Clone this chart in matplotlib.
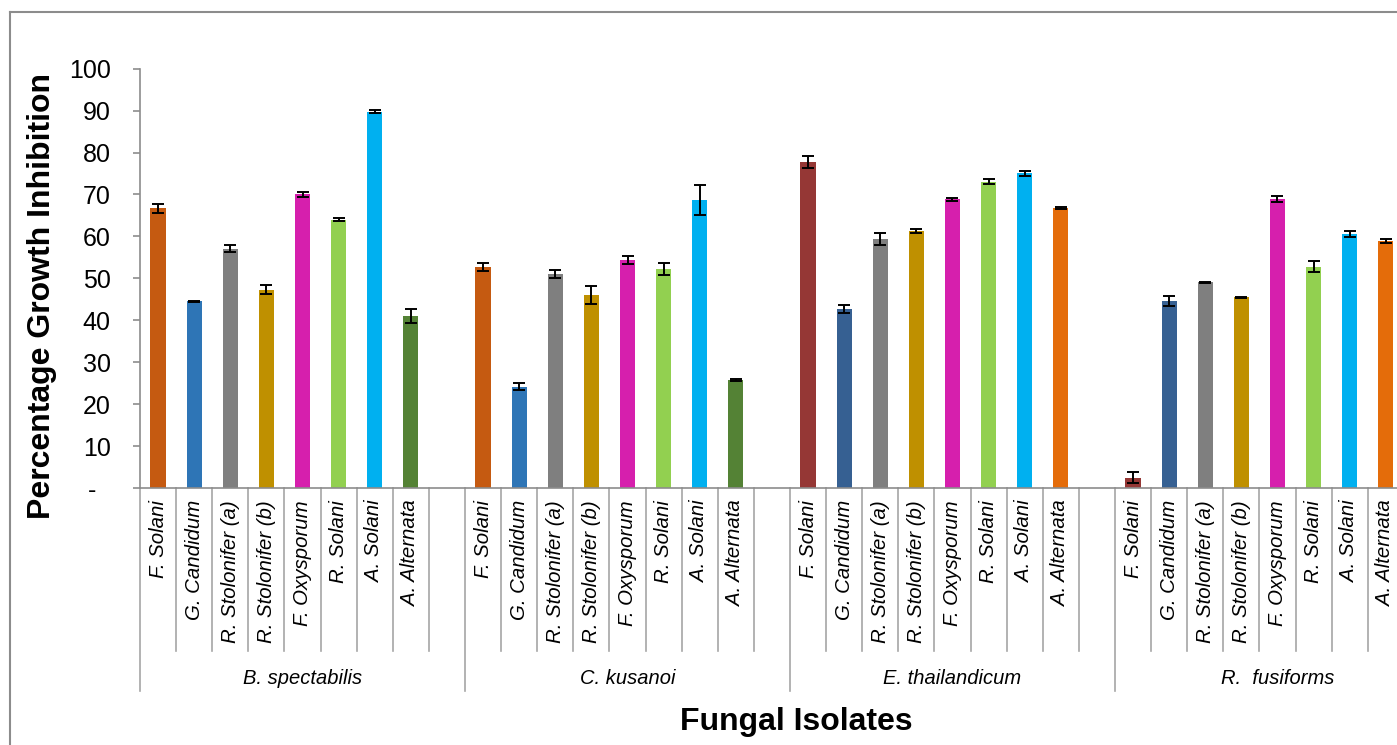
import numpy as np
import matplotlib.pyplot as plt
from matplotlib.lines import Line2D
from matplotlib.transforms import blended_transform_factory

plt.rcParams['font.family'] = ['Liberation Sans', 'DejaVu Sans']

# fungal isolates tested against each endophyte
isolates = ['F. Solani', 'G. Candidum', 'R. Stolonifer (a)', 'R. Stolonifer (b)',
            'F. Oxysporum', 'R. Solani', 'A. Solani', 'A. Alternata']
endophytes = ['B. spectabilis', 'C. kusanoi', 'E. thailandicum', 'R.  fusiforms']

# percentage growth inhibition (mean) and error
b_spectabilis = [66.7, 44.5, 57.1, 47.3, 70.1, 64.0, 89.7, 41.0]
b_spectabilis_err = [1.0, 0.1, 0.9, 1.1, 0.6, 0.4, 0.35, 1.7]
c_kusanoi = [52.7, 24.2, 51.0, 46.0, 54.4, 52.2, 68.7, 25.7]
c_kusanoi_err = [0.9, 0.9, 1.0, 2.1, 0.95, 1.5, 3.5, 0.3]
e_thailandicum = [77.8, 42.7, 59.4, 61.3, 68.9, 73.0, 75.1, 66.8]
e_thailandicum_err = [1.4, 0.9, 1.5, 0.4, 0.35, 0.6, 0.6, 0.3]
r_fusiforms = [2.5, 44.6, 49.1, 45.5, 68.9, 52.8, 60.6, 58.9]
r_fusiforms_err = [1.4, 1.2, 0.1, 0.1, 0.7, 1.4, 0.7, 0.4]

values = [b_spectabilis, c_kusanoi, e_thailandicum, r_fusiforms]
errors = [b_spectabilis_err, c_kusanoi_err, e_thailandicum_err, r_fusiforms_err]

colors_a = ['#C55A11', '#2E75B6', '#7F7F7F', '#BF9000',
            '#D61FAD', '#92D050', '#00B0F0', '#548235']
colors_b = ['#953735', '#366092', '#7F7F7F', '#BF9000',
            '#D61FAD', '#92D050', '#00B0F0', '#E46C0A']
group_colors = [colors_a, colors_a, colors_b, colors_b]

W, H = 1397, 745
fig = plt.figure(figsize=(W / 100, H / 100), dpi=100)
ax = fig.add_axes([140 / W, 1 - 488 / H, 1300 / W, (488 - 68.7) / H])

slots = len(isolates) + 1
n_slots = slots * len(endophytes)
for g in range(len(endophytes)):
    x = g * slots + np.arange(len(isolates)) + 0.5
    ax.bar(x, values[g], width=0.42, color=group_colors[g], zorder=2)
    ax.errorbar(x, values[g], yerr=errors[g], fmt='none', ecolor='black',
                elinewidth=1.4, capsize=4.3, capthick=1.4, zorder=3)

ax.set_xlim(0, n_slots)
ax.set_ylim(0, 100)
ax.set_yticks(np.arange(0, 101, 10))
ax.set_yticklabels(['-  '] + [str(v) for v in range(10, 101, 10)], fontsize=18)
ax.tick_params(axis='y', length=5, width=1.2, color='#8C8C8C', pad=16)
ax.set_xticks([])
for s in ['top', 'right']:
    ax.spines[s].set_visible(False)
for s in ['left', 'bottom']:
    ax.spines[s].set_color('#8C8C8C')
    ax.spines[s].set_linewidth(1.2)

# category separators and labels under the axis
trans = blended_transform_factory(ax.transData, ax.transAxes)
ax_h = 488 - 68.7
for k in range(n_slots + 1):
    depth = 203 if k % slots == 0 else 163
    ax.plot([k, k], [0, -depth / ax_h], transform=trans, color='#A6A6A6',
            lw=1.2, clip_on=False)
for g, name in enumerate(endophytes):
    for i, iso in enumerate(isolates):
        ax.text(g * slots + i + 0.5, -12 / ax_h, iso, transform=trans,
                rotation=90, ha='center', va='top', fontsize=14.7,
                style='italic')
    ax.text(g * slots + slots / 2, -190 / ax_h, name, transform=trans,
            ha='center', va='center', fontsize=14.5, style='italic')

fig.text(42 / W, 1 - 296 / H, 'Percentage Growth Inhibition', rotation=90,
         ha='center', va='center', fontsize=23, fontweight='bold')
fig.text(796 / W, 1 - 722 / H, 'Fungal Isolates', ha='center', va='center',
         fontsize=23, fontweight='bold')

# outer chart border
fig.add_artist(Line2D([10 / W, 10 / W], [0, 1 - 12 / H], color='#8C8C8C', lw=1.5))
fig.add_artist(Line2D([10 / W, 1], [1 - 12 / H, 1 - 12 / H], color='#8C8C8C', lw=1.5))

fig.savefig('out.png', dpi=100)
